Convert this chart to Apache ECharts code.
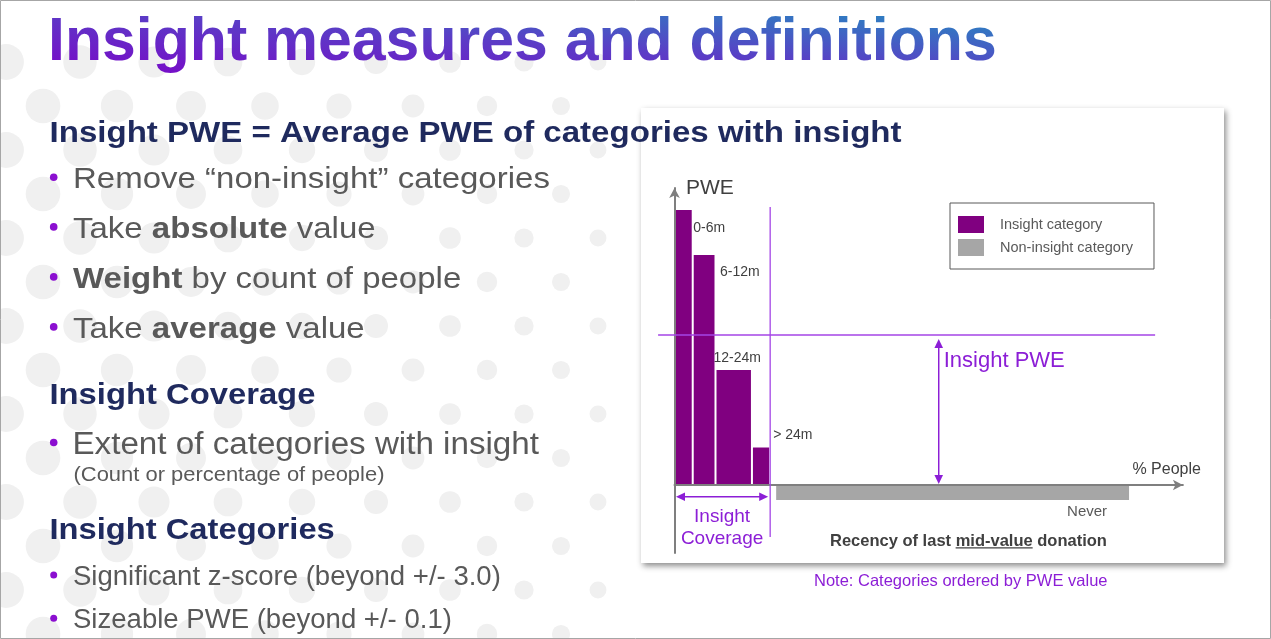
<!DOCTYPE html>
<html lang="en">
<head>
<meta charset="UTF-8">
<title>Insight measures and definitions</title>
<script src="https://cdn.jsdelivr.net/npm/echarts@6/dist/echarts.min.js"></script>
<style>
    html, body { margin: 0; padding: 0; background: #fff; }
    #wrap { position: relative; width: 1271px; height: 639px; }
    #slide { width: 1271px; height: 639px; }
    #title {
        position: absolute; left: 48px; top: 7.5px; z-index: 2;
        font: bold 62px 'Liberation Sans', Arial, sans-serif; line-height: 62px;
        white-space: nowrap; padding-bottom: 8px;
        transform: scaleX(0.98); transform-origin: 0 0;
        background: linear-gradient(to top right, #7c04c8 0%, #5b3cc6 50%, #2290c0 100%);
        -webkit-background-clip: text; background-clip: text;
        -webkit-text-fill-color: transparent; color: transparent;
    }
</style>
</head>
<body>
<div id="wrap">
    <div id="slide"></div>
    <div id="title">Insight measures and definitions</div>
</div>
<script>
// recency of last mid-value donation, ordered by PWE value
var categories = ['0-6m', '6-12m', '12-24m', '> 24m', 'Never'];
var peopleShare = [4, 5, 8, 4, 79];            // % of people in each category
var pweValue = [0.55, 0.46, 0.23, 0.075, -0.03];
var insightFlag = [true, true, true, true, false];
var insightPwe = 0.30;                          // weighted average PWE of insight categories
var legendNames = ['Insight category', 'Non-insight category'];

var FONT = "'Liberation Sans', Arial, sans-serif";
var BAR_PURPLE = '#800080';
var BAR_GREY = '#a6a6a6';
var NOTE_PURPLE = '#8c1ed6';
var LINE_PURPLE = '#a445e6';
var NAVY = '#1f2a5e';
var GREY_TEXT = '#595959';
var MID = 0.27;   // baseline -> text middle, as a share of font size

// where each bar label sits relative to its bar
var labelPlace = {
    '0-6m':   { side: 'right', dx: 1.5, dy: 18 },
    '6-12m':  { side: 'right', dx: 5.5, dy: 17 },
    '12-24m': { side: 'left',  dx: -3,  dy: -12 },
    '> 24m':  { side: 'right', dx: 4,   dy: -12 },
    'Never':  { side: 'below', dx: -22, dy: 12 }
};

// cumulative % people -> bar start / end
var starts = [], acc = 0;
peopleShare.forEach(function (s) { starts.push(acc); acc += s; });
var insightData = [], otherData = [], coverage = 0;
categories.forEach(function (c, i) {
    var row = [starts[i], starts[i] + peopleShare[i], pweValue[i], i, insightFlag[i] ? 1 : 0];
    if (insightFlag[i]) { insightData.push(row); coverage += peopleShare[i]; }
    else otherData.push(row);
});

function renderBar(params, api) {
    var name = categories[api.value(3)];
    var insight = api.value(4) === 1;
    var base = api.coord([api.value(0), 0]);
    var tip = api.coord([api.value(1), api.value(2)]);
    var x0 = base[0] + (insight ? 1 : 6);
    var x1 = tip[0] - 1;
    var yTop = Math.min(base[1], tip[1]);
    var h = Math.abs(tip[1] - base[1]);
    var p = labelPlace[name];
    var lx, ly, align = 'left';
    if (p.side === 'right') { lx = x1 + p.dx; ly = yTop + p.dy; }
    else if (p.side === 'left') { lx = x0 + p.dx; ly = yTop + p.dy; }
    else { lx = x1 + p.dx; ly = yTop + h + p.dy; align = 'right'; }
    return {
        type: 'group',
        children: [
            { type: 'rect', shape: { x: x0, y: yTop, width: x1 - x0, height: h },
              style: { fill: api.visual('color') } },
            { type: 'text', x: lx, y: ly,
              style: { text: name, fill: insight ? '#404040' : GREY_TEXT,
                       font: (insight ? 14 : 15) + 'px ' + FONT,
                       align: align, verticalAlign: 'middle' } }
        ]
    };
}

var chart = echarts.init(document.getElementById('slide'));

var axisLine = { show: true, onZero: true, symbol: ['none', 'arrow'], symbolSize: [8, 10],
                 lineStyle: { color: '#7f7f7f', width: 2 } };

chart.setOption({
    animation: false,
    backgroundColor: '#ffffff',
    grid: { left: 674.5, top: 188, width: 508.4, height: 365, outerBoundsMode: 'none' },
    xAxis: {
        type: 'value', min: 0, max: 111.6, z: 3,
        name: '% People', nameLocation: 'end', nameGap: 18,
        nameTextStyle: { fontFamily: FONT, fontSize: 16, color: '#404040',
                         align: 'right', verticalAlign: 'bottom', padding: [0, 0, 7, 0] },
        axisLine: axisLine, axisTick: { show: false }, axisLabel: { show: false },
        splitLine: { show: false }
    },
    yAxis: {
        type: 'value', min: -0.136, max: 0.594, z: 3,
        name: 'PWE', nameLocation: 'end', nameGap: 0,
        nameTextStyle: { fontFamily: FONT, fontSize: 21, color: '#404040',
                         align: 'left', verticalAlign: 'middle', padding: [4, 0, 0, 11.5] },
        axisLine: axisLine, axisTick: { show: false }, axisLabel: { show: false },
        splitLine: { show: false }
    },
    legend: {
        data: legendNames, orient: 'vertical', left: 950, top: 203,
        icon: 'rect', itemWidth: 26, itemHeight: 17, itemGap: 6,
        borderColor: '#595959', borderWidth: 1, borderRadius: 0,
        padding: [13, 21, 13, 8], selectedMode: false, z: 4,
        textStyle: { fontFamily: FONT, fontSize: 14.5, color: GREY_TEXT, padding: [0, 0, 0, 11] }
    },
    series: [
        { name: legendNames[0], type: 'custom', renderItem: renderBar, data: insightData,
          encode: { x: [0, 1], y: 2 }, itemStyle: { color: BAR_PURPLE }, silent: true, clip: false },
        { name: legendNames[1], type: 'custom', renderItem: renderBar, data: otherData,
          encode: { x: [0, 1], y: 2 }, itemStyle: { color: BAR_GREY }, silent: true, clip: false }
    ]
});

// ---------- slide furniture drawn with the graphic component ----------
function px(x, y) { return chart.convertToPixel({ gridIndex: 0 }, [x, y]); }

function textEl(t, x, base, size, opt) {
    opt = opt || {};
    var style = { text: t, fill: opt.fill || GREY_TEXT,
                  font: (opt.bold ? 'bold ' : '') + size + 'px ' + FONT,
                  align: opt.align || 'left', verticalAlign: 'middle' };
    if (opt.rich) {
        style.rich = {
            n: { font: size + 'px ' + FONT, fill: opt.fill || GREY_TEXT },
            b: { font: 'bold ' + size + 'px ' + FONT, fill: opt.fill || GREY_TEXT }
        };
    }
    return { type: 'text', x: x, y: base - MID * size, scaleX: opt.sx || 1,
             z: 6, silent: true, style: style };
}

function arrowHead(tx, ty, dx, dy, color) {
    var len = 9, half = 4.3;
    var bx = tx - dx * len, by = ty - dy * len;
    return { type: 'polygon', z: 5, silent: true,
             shape: { points: [[tx, ty], [bx - dy * half, by + dx * half], [bx + dy * half, by - dx * half]] },
             style: { fill: color } };
}

function lineEl(x1, y1, x2, y2, color, w) {
    return { type: 'line', z: 5, silent: true, shape: { x1: x1, y1: y1, x2: x2, y2: y2 },
             style: { stroke: color, lineWidth: w } };
}

var els = [];

// background dot field (decoration)
for (var row = 0; row < 14; row++) {
    for (var col = 0; col < 9; col++) {
        var cx = 6 + col * 74 + (row % 2) * 37;
        var cy = 62 + row * 44;
        if (cx > 625) continue;
        els.push({ type: 'circle', z: 0, silent: true,
                   shape: { cx: cx, cy: cy, r: 18 - cx * 0.016 },
                   style: { fill: '#f0f0f0' } });
    }
}

// chart card
els.push({ type: 'rect', z: 1, silent: true, shape: { x: 641, y: 108, width: 583, height: 455 },
           style: { fill: '#ffffff', shadowBlur: 6, shadowOffsetX: 2, shadowOffsetY: 3,
                    shadowColor: 'rgba(0,0,0,0.45)' } });

// left column
els.push(textEl('Insight PWE = Average PWE of categories with insight', 49.5, 141.7, 29, { bold: true, fill: NAVY, sx: 1.14 }));
els.push(textEl('Remove \u201cnon-insight\u201d categories', 73, 188.3, 30, { sx: 1.1 }));
els.push(textEl('{n|Take }{b|absolute}{n| value}', 73, 238, 30, { sx: 1.1, rich: true }));
els.push(textEl('{b|Weight}{n| by count of people}', 73, 288, 30, { sx: 1.1, rich: true }));
els.push(textEl('{n|Take }{b|average}{n| value}', 73, 338, 30, { sx: 1.1, rich: true }));
els.push(textEl('Insight Coverage', 49.5, 404.3, 29, { bold: true, fill: NAVY, sx: 1.13 }));
els.push(textEl('Extent of categories with insight', 72.5, 454, 31, { sx: 1.07 }));
els.push(textEl('(Count or percentage of people)', 73.5, 480.7, 20.5, { sx: 1.07 }));
els.push(textEl('Insight Categories', 49.5, 539, 30, { bold: true, fill: NAVY, sx: 1.09 }));
els.push(textEl('Significant z-score (beyond +/- 3.0)', 73, 585, 27, { sx: 1.02 }));
els.push(textEl('Sizeable PWE (beyond +/- 0.1)', 73, 628.3, 27, { sx: 1.02 }));

[[188.3, 30], [238, 30], [288, 30], [338, 30], [454, 31], [585, 27], [628.3, 27]].forEach(function (b) {
    els.push({ type: 'circle', z: 6, silent: true,
               shape: { cx: 53.7, cy: b[0] - 0.37 * b[1], r: b[1] > 28 ? 3.8 : 3.5 },
               style: { fill: '#8b0fd0' } });
});

// annotations inside the chart
var zero = px(0, 0);
var pweLeft = px(-3.6, insightPwe), pweRight = px(105.5, insightPwe);
els.push(lineEl(pweLeft[0], pweLeft[1], pweRight[0], pweRight[1], LINE_PURPLE, 1.3));

var covTop = px(coverage, 0.556), covBottom = px(coverage, -0.104);
els.push(lineEl(covTop[0], covTop[1], covBottom[0], covBottom[1], LINE_PURPLE, 1.3));

// Insight PWE double arrow
var arrX = px(58, 0)[0];
var aTop = pweLeft[1] + 4, aBot = zero[1] - 1;
els.push(lineEl(arrX, aTop + 6, arrX, aBot - 6, NOTE_PURPLE, 1.5));
els.push(arrowHead(arrX, aTop, 0, -1, NOTE_PURPLE));
els.push(arrowHead(arrX, aBot, 0, 1, NOTE_PURPLE));
els.push(textEl('Insight PWE', arrX + 5, aTop + 21 + 0.3 * 22, 22, { fill: NOTE_PURPLE }));

// Insight coverage double arrow
var covY = zero[1] + 11.7;
var cL = zero[0] + 1.5, cR = px(coverage, 0)[0] - 2;
els.push(lineEl(cL + 6, covY, cR - 6, covY, NOTE_PURPLE, 1.5));
els.push(arrowHead(cL, covY, -1, 0, NOTE_PURPLE));
els.push(arrowHead(cR, covY, 1, 0, NOTE_PURPLE));
var covMid = (cL + cR) / 2;
els.push(textEl('Insight', covMid, covY + 19 + 0.3 * 19, 19, { fill: NOTE_PURPLE, align: 'center' }));
els.push(textEl('Coverage', covMid, covY + 41.3 + 0.3 * 19, 19, { fill: NOTE_PURPLE, align: 'center' }));

// x axis title with underlined word
var recencyFont = 'bold 16.5px ' + FONT;
var ctx = document.createElement('canvas').getContext('2d');
ctx.font = recencyFont;
var recX = 830, recBase = 545.5;
var ulStart = recX + ctx.measureText('Recency of last ').width;
var ulEnd = ulStart + ctx.measureText('mid-value').width;
els.push(textEl('Recency of last mid-value donation', recX, recBase, 16.5, { bold: true, fill: '#404040' }));
els.push(lineEl(ulStart, recBase + 2.3, ulEnd, recBase + 2.3, '#404040', 1.2));

els.push(textEl('Note: Categories ordered by PWE value', 814, 585.5, 16.5, { fill: NOTE_PURPLE }));

// slide frame
els.push({ type: 'rect', z: 20, silent: true, shape: { x: 0.5, y: 0.5, width: 1270, height: 638 },
           style: { fill: 'none', stroke: '#a6a6a6', lineWidth: 1 } });

chart.setOption({ graphic: { elements: els } });
</script>
</body>
</html>
